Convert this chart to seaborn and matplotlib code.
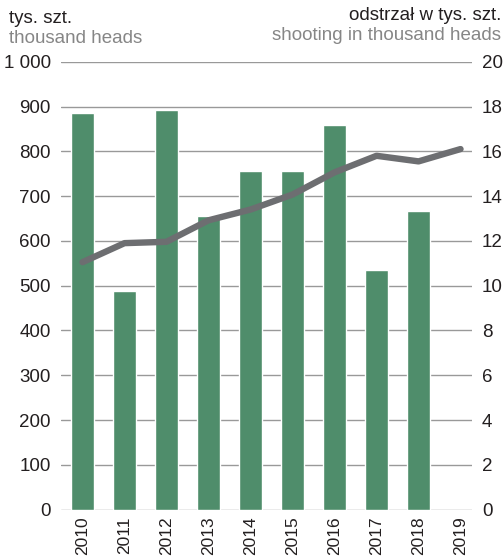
import numpy as np
import pandas as pd
import matplotlib
matplotlib.use("Agg")
import matplotlib.pyplot as plt
from matplotlib.ticker import FuncFormatter
import seaborn as sns

# Wild boar population (thousand heads) and hunting bag (thousand heads)
years = ["2010", "2011", "2012", "2013", "2014", "2015", "2016", "2017", "2018", "2019"]
population = [885, 489, 892, 655, 757, 757, 859, 534, 667, np.nan]
shooting = [11.05, 11.9, 11.96, 12.92, 13.4, 14.07, 15.06, 15.8, 15.55, 16.1]

left_ticks = [0, 100, 200, 300, 400, 500, 600, 700, 800, 900, 1000]
right_ticks = [0, 2, 4, 6, 8, 10, 12, 14, 16, 18, 20]

BAR_GREEN = "#4f8d6b"
LINE_GREY = "#6d6e71"
GRID_GREY = "#999999"
TEXT_DARK = "#231f20"
TEXT_GREY = "#868686"
FS = 13.5

sns.set_theme(style="white")
plt.rcParams["font.family"] = ["Liberation Sans", "DejaVu Sans"]

df = pd.DataFrame({"year": years, "population": population, "shooting": shooting})

fig = plt.figure(figsize=(5.04, 5.58), dpi=100)
ax = fig.add_axes([0.1204, 0.0866, 0.9371 - 0.1204, 0.8894 - 0.0866])

sns.barplot(data=df, x="year", y="population", color=BAR_GREEN, saturation=1,
            width=0.55, ax=ax, zorder=2)

ax2 = ax.twinx()
sns.lineplot(x=np.arange(len(years)), y=df["shooting"], color=LINE_GREY,
             linewidth=4.6, ax=ax2, zorder=3)

ax.set_ylim(0, 1000)
ax2.set_ylim(0, 20)
ax.set_xlim(-0.52, 9.28)

ax.set_yticks(left_ticks)
ax.yaxis.set_major_formatter(FuncFormatter(lambda v, p: f"{int(v):,}".replace(",", " ")))
ax2.set_yticks(right_ticks)

ax.set_xticks(range(len(years)))
ax.set_xticklabels(years, rotation=90, va="top")

for a in (ax, ax2):
    for s in a.spines.values():
        s.set_visible(False)
    a.set_xlabel("")
    a.set_ylabel("")

ax.grid(axis="y", color=GRID_GREY, linewidth=1.0, zorder=0)
ax.set_axisbelow(True)
ax2.grid(False)

ax.tick_params(axis="y", length=0, pad=7, labelsize=FS, labelcolor=TEXT_DARK)
ax.tick_params(axis="x", length=0, pad=5, labelsize=12.5, labelcolor=TEXT_DARK)
ax2.tick_params(axis="y", length=0, pad=7, labelsize=FS, labelcolor=TEXT_DARK)

# Axis titles (Polish / English)
fig.text(9 / 504, 1 - 23 / 558, "tys. szt.", fontsize=FS, color=TEXT_DARK, ha="left", va="baseline")
fig.text(9 / 504, 1 - 43 / 558, "thousand heads", fontsize=FS, color=TEXT_GREY, ha="left", va="baseline")
fig.text(501 / 504, 1 - 20 / 558, "odstrzał w tys. szt.", fontsize=FS, color=TEXT_DARK, ha="right", va="baseline")
fig.text(501 / 504, 1 - 40 / 558, "shooting in thousand heads", fontsize=FS, color=TEXT_GREY, ha="right", va="baseline")

fig.savefig("out.png", dpi=100)
